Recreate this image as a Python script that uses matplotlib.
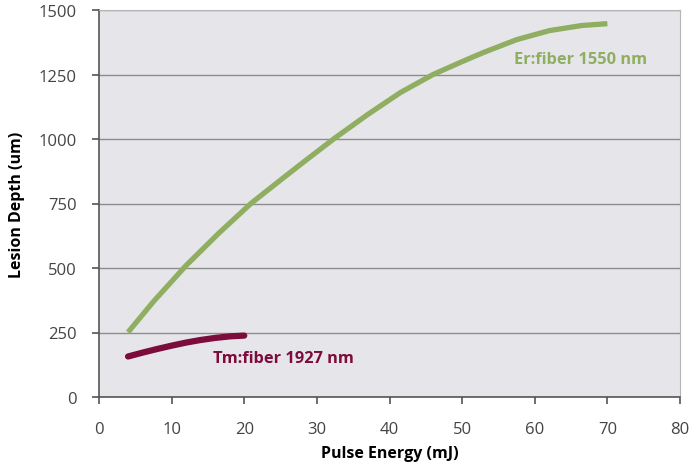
import matplotlib.pyplot as plt

# Er:fiber 1550 nm curve
er_energy = [4, 7.5, 12, 16.5, 21, 25.5, 28, 32.3, 37, 41.5, 46, 50, 53, 57.5, 62, 66.5, 70]
er_depth = [251, 370, 510, 635, 752, 852, 907, 1000, 1095, 1180, 1250, 1300, 1336, 1385, 1420, 1440, 1447]

# Tm:fiber 1927 nm curve
tm_energy = [4, 6, 8, 10, 12, 14, 16, 18, 20]
tm_depth = [157, 172, 186, 199, 211, 221, 229, 235, 238]

x_ticks = [0, 10, 20, 30, 40, 50, 60, 70, 80]
y_ticks = [0, 250, 500, 750, 1000, 1250, 1500]

plt.rcParams["font.family"] = ["Open Sans", "DejaVu Sans"]

fig = plt.figure(figsize=(6.89, 4.64), dpi=100)
ax = fig.add_axes([99 / 689, 66 / 464, 581 / 689, 387 / 464])
ax.set_facecolor("#e6e6ea")

green = "#8fae62"
maroon = "#7b0c3c"
ax.plot(er_energy, er_depth, color=green, lw=3.8, solid_capstyle="butt",
        solid_joinstyle="round", zorder=3)
ax.plot(tm_energy, tm_depth, color=maroon, lw=4.5, solid_capstyle="round",
        solid_joinstyle="round", zorder=3)

ax.text(57.2, 1310, "Er:fiber 1550 nm", color=green, fontsize=11.8, fontweight="bold", va="center")
ax.text(15.7, 152, "Tm:fiber 1927 nm", color=maroon, fontsize=11.8, fontweight="bold", va="center")

ax.set_xlim(0, 80)
ax.set_ylim(0, 1500)
ax.set_xticks(x_ticks)
ax.set_yticks(y_ticks)
ax.yaxis.grid(True, color="#8c8c8c", lw=1)
ax.set_axisbelow(True)

for side in ["left", "bottom"]:
    ax.spines[side].set_color("#555555")
    ax.spines[side].set_linewidth(1.2)
for side in ["top", "right"]:
    ax.spines[side].set_color("#b5b5b5")
ax.tick_params(colors="#555555", labelcolor="#444444", labelsize=12, length=5, width=1.2)
ax.tick_params(axis="x", pad=12)
ax.tick_params(axis="y", pad=11)

ax.set_xlabel("Pulse Energy (mJ)", fontsize=11.5, fontweight="bold", labelpad=6)
ax.set_ylabel("Lesion Depth (um)", fontsize=11.5, fontweight="bold", labelpad=10)

fig.savefig("out.png", dpi=100)
